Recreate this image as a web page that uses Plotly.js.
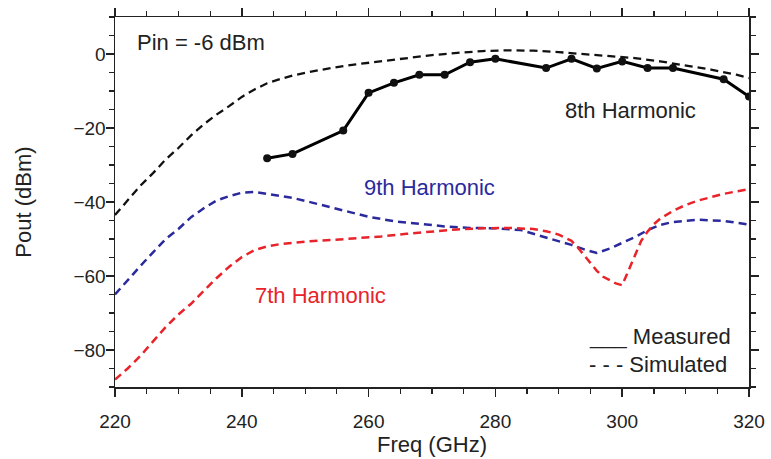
<!DOCTYPE html>
<html>
<head>
<meta charset="utf-8">
<script src="https://cdn.plot.ly/plotly-3.0.1.min.js"></script>
<style>html,body{margin:0;padding:0;background:#fff;}#chart{width:771px;height:459px;}</style>
</head>
<body>
<div id="chart"></div>
<script>
// Measured 8th harmonic
const measX8 = [244,248,256,260,264,268,272,276,280,288,292,296,300,304,308,316,320];
const measY8 = [-28.2,-27,-20.7,-10.5,-7.8,-5.6,-5.6,-2.2,-1.3,-3.8,-1.3,-3.9,-2.0,-3.8,-3.8,-6.8,-11.5];

// Simulated 8th harmonic
const simX8 = [220,222,224,226,228,230,232,234,236,238,240,242,244,246,248,250,254,258,262,266,270,274,278,282,286,290,294,298,302,306,310,314,318,320];
const simY8 = [-43.5,-39.4,-35.6,-32.2,-28.5,-25.4,-22,-19,-16.4,-14.1,-11.6,-9.6,-7.9,-6.8,-5.8,-5.1,-3.8,-2.8,-1.9,-1.0,-0.3,0.3,0.8,1.0,0.9,0.5,0.0,-0.5,-1.1,-2.0,-3.0,-4.2,-5.6,-6.5];

// Simulated 9th harmonic
const simX9 = [220,222,224,226,228,230,232,234,236,238,240,242,244,248,250,252,256,260,264,268,272,276,280,284,286,288,290,292,294,296,298,300,302,304,306,308,312,316,320];
const simY9 = [-65,-61,-57.3,-53.6,-50,-47.3,-44.1,-41.7,-39.6,-38.4,-37.5,-37.3,-37.8,-38.9,-39.7,-40.6,-42.4,-44,-45.2,-46,-46.6,-47,-47.1,-47.6,-48.6,-49.7,-50.5,-51.6,-52.8,-53.8,-52.6,-51.1,-49.5,-47.6,-46.2,-45.4,-44.8,-45.1,-46.1];

// Simulated 7th harmonic
const simX7 = [220,222,224,226,228,230,232,234,236,238,240,242,244,246,250,254,258,262,266,270,274,278,282,286,288,290,292,293,294,295,296,297,298,299,300,301,302,303,304,305,306,308,310,312,316,320];
const simY7 = [-88,-85,-81.6,-77.8,-73.8,-70.4,-67.5,-64,-60.6,-57.5,-54.9,-53,-52,-51.4,-50.7,-50.3,-49.9,-49.3,-48.6,-47.9,-47.4,-47.1,-47,-47.3,-47.9,-48.8,-50.5,-52.3,-54.3,-56.6,-58.6,-60.2,-61,-62,-62.5,-58.5,-54.7,-50.5,-48,-46,-44.5,-42.4,-40.8,-39.6,-37.8,-36.5];

const xTicks = [220,240,260,280,300,320];
const yTicks = [0,-20,-40,-60,-80];

const BLUE = '#2a2a9c';
const RED = '#e8232a';
const FONT = 'Arial, "Liberation Sans", sans-serif';
const DASH = '8px,5px';

const traces = [
  {x: simX8, y: simY8, mode: 'lines', line: {color: '#111', width: 2.3, dash: DASH}, hoverinfo: 'skip'},
  {x: simX9, y: simY9, mode: 'lines', line: {color: BLUE, width: 2.5, dash: DASH}, hoverinfo: 'skip'},
  {x: simX7, y: simY7, mode: 'lines', line: {color: RED, width: 2.5, dash: DASH}, hoverinfo: 'skip'},
  {x: measX8, y: measY8, mode: 'lines+markers', line: {color: '#000', width: 3}, marker: {color: '#111', size: 8, symbol: 'circle'}, hoverinfo: 'skip'}
];

const axisCommon = {
  showgrid: false, zeroline: false, showline: true, linecolor: '#222', linewidth: 1.5,
  mirror: 'allticks', ticks: 'outside', ticklen: 8, tickwidth: 1.5, tickcolor: '#222',
  tickfont: {family: FONT, size: 19, color: '#222'}
};

const ann = (x, y, text, color) => ({x: x, y: y, xref: 'x', yref: 'y', text: text, showarrow: false,
  xanchor: 'left', yanchor: 'middle', font: {family: FONT, size: 22, color: color}});

const layout = {
  width: 771, height: 459,
  margin: {l: 115, r: 22, t: 17, b: 72},
  paper_bgcolor: '#fff', plot_bgcolor: '#fff',
  showlegend: false,
  xaxis: Object.assign({}, axisCommon, {
    range: [220, 320], tickvals: xTicks, ticktext: xTicks.map(String),
    ticklabelstandoff: 9,
    minor: {dtick: 5, tick0: 220, ticks: 'outside', ticklen: 5, tickwidth: 1.2, tickcolor: '#222'},
    title: {text: 'Freq (GHz)', font: {family: FONT, size: 22, color: '#222'}, standoff: 4}
  }),
  yaxis: Object.assign({}, axisCommon, {
    range: [-90, 10], tickvals: yTicks, ticktext: yTicks.map(v => v < 0 ? '\u2212' + Math.abs(v) : String(v)),
    ticklabelstandoff: -4,
    minor: {dtick: 5, tick0: 0, ticks: 'outside', ticklen: 5, tickwidth: 1.2, tickcolor: '#222'},
    title: {text: 'Pout (dBm)', font: {family: FONT, size: 22, color: '#222'}, standoff: 36}
  }),
  annotations: [
    ann(223.2, 3.0, 'Pin = -6 dBm', '#222'),
    ann(290.7, -15.3, '8th Harmonic', '#222'),
    ann(258.9, -36.2, '9th Harmonic', BLUE),
    ann(241.8, -65.3, '7th Harmonic', RED),
    ann(294.4, -76.4, '___ Measured', '#222'),
    ann(294.4, -84.0, '- - - Simulated', '#222')
  ]
};

Plotly.newPlot('chart', traces, layout, {staticPlot: true, displayModeBar: false});
</script>
</body>
</html>
